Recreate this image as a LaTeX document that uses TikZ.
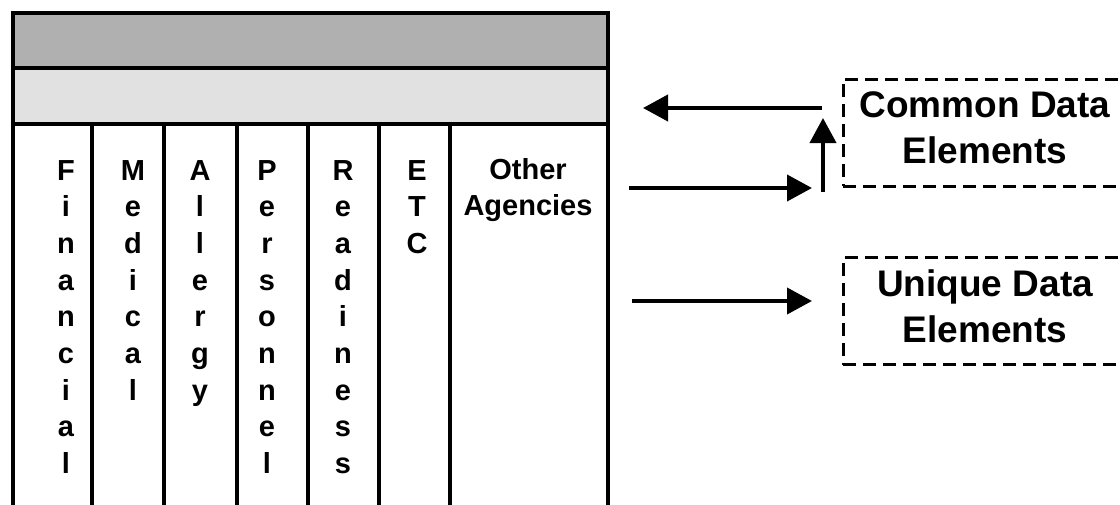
\documentclass[tikz,border=0pt]{standalone}
\usepackage{fontspec}
\setmainfont{Liberation Sans}
\usetikzlibrary{arrows.meta}
\definecolor{bandDark}{HTML}{B0B0B0}
\definecolor{bandLight}{HTML}{E1E1E1}
\tikzset{
  letter/.style={font=\fontsize{29}{36.7}\selectfont\bfseries, inner sep=0pt, anchor=base},
  databox/.style={draw, line width=3pt, dash pattern=on 13pt off 7pt, minimum width=284pt, minimum height=107pt, inner sep=0pt},
  datatext/.style={font=\fontsize{37}{46}\selectfont\bfseries, align=center, inner sep=0pt, yshift=5pt},
  flow/.style={line width=4pt, -{Triangle[length=25pt,width=26pt]}},
}
\begin{document}
\begin{tikzpicture}[x=1pt,y=-1pt]
\clip (0,0) rectangle (1120,504);

% Shaded bands on top of the record
\fill[bandDark] (13,13) rectangle (608,68);
\fill[bandLight] (13,68) rectangle (608,124);
% Outer frame, open at the bottom
\draw[line width=4pt] (13,510) -- (13,13) -- (608,13) -- (608,510);
\draw[line width=3.5pt] (13,68) -- (608,68);
\draw[line width=3.5pt] (13,124) -- (608,124);
% Column dividers
\foreach \xd in {92,164,237,308,379,450}
  \draw[line width=4pt] (\xd,124) -- (\xd,510);

% Column titles, one letter per line
\foreach \ch [count=\i] in {F,i,n,a,n,c,i,a,l}
  \node[letter] (fin\i) at (66,{180+36.7*(\i-1)}) {\ch};
\foreach \ch [count=\i] in {M,e,d,i,c,a,l}
  \node[letter] (med\i) at (133,{180+36.7*(\i-1)}) {\ch};
\foreach \ch [count=\i] in {A,l,l,e,r,g,y}
  \node[letter] (all\i) at (200,{180+36.7*(\i-1)}) {\ch};
\foreach \ch [count=\i] in {P,e,r,s,o,n,n,e,l}
  \node[letter] (per\i) at (267,{180+36.7*(\i-1)}) {\ch};
\foreach \ch [count=\i] in {R,e,a,d,i,n,e,s,s}
  \node[letter] (rea\i) at (343,{180+36.7*(\i-1)}) {\ch};
\foreach \ch [count=\i] in {E,T,C}
  \node[letter] (etc\i) at (417,{180+36.7*(\i-1)}) {\ch};
\node[letter, anchor=north, align=center] (other) at (528,158) {Other\\Agencies};

% Data element boxes
\node[databox] (commonbox) at (985,132.5) {};
\node[datatext] (common) at (commonbox.center) {Common Data\\Elements};
\node[databox] (uniquebox) at (985,311) {};
\node[datatext] (unique) at (uniquebox.center) {Unique Data\\Elements};

% Arrow ends
\coordinate (backFoot) at (822,108);
\coordinate (backHead) at (643,108);
\coordinate (upFoot) at (823,192);
\coordinate (upHead) at (823,118);
\coordinate (inFoot) at (629,188);
\coordinate (inHead) at (812,188);
\coordinate (uniqFoot) at (632,301);
\coordinate (uniqHead) at (812,301);
% Arrows
\draw[flow] (backFoot) -- (backHead);
\draw[flow] (upFoot) -- (upHead);
\draw[flow] (inFoot) -- (inHead);
\draw[flow] (uniqFoot) -- (uniqHead);

\end{tikzpicture}
\end{document}
